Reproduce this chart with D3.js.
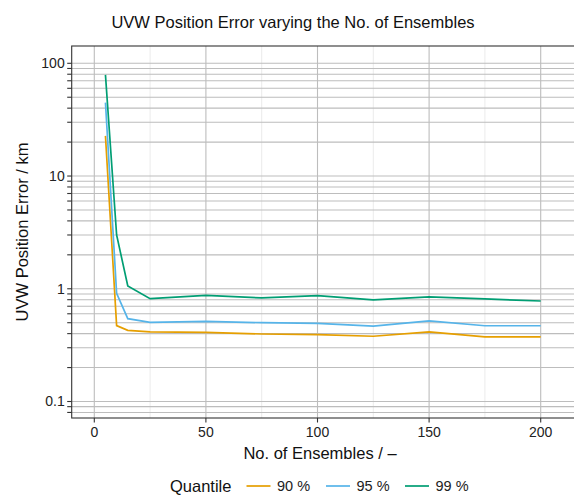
<!DOCTYPE html>
<html><head><meta charset="utf-8">
<script src="https://cdn.jsdelivr.net/npm/d3@7"></script>
<style>html,body{margin:0;padding:0;background:#fff;}svg{display:block;font-family:"Liberation Sans",Arial,sans-serif;}</style>
</head><body><div id="chart"></div>
<script>
const ensembles = [5, 10, 15, 25, 50, 75, 100, 125, 150, 175, 200];
const q90 = [22.7, 0.471, 0.428, 0.414, 0.411, 0.397, 0.392, 0.379, 0.414, 0.375, 0.375];
const q95 = [44.8, 0.912, 0.543, 0.504, 0.514, 0.500, 0.494, 0.467, 0.518, 0.470, 0.470];
const q99 = [78.9, 3.0, 1.06, 0.817, 0.875, 0.830, 0.868, 0.796, 0.846, 0.812, 0.779];
const seriesNames = ["90 %", "95 %", "99 %"];
const seriesColors = ["#E69F00", "#56B4E9", "#009E73"];
const xMajorTicks = [0, 50, 100, 150, 200];
const xMinorTicks = [25, 75, 125, 175];
const yMajorTicks = [0.1, 1, 10, 100];
const yLabels = ["0.1", "1", "10", "100"];

const W = 574, H = 495;
const svg = d3.select("#chart").append("svg").attr("width", W).attr("height", H);

const pL = 71.7, pT = 46, pB = 418, pR = 600;
const x = d3.scaleLinear().domain([0, 200]).range([94.3, 540.7]);
const y = d3.scaleLog().domain([0.1, 100]).range([401.5, 63.3]);

const yGrid = [];
[0.01, 0.1, 1, 10, 100].forEach(d => { for (let k = 1; k <= 9; k++) { const v = +(d * k).toPrecision(3); const py = y(v); if (py > pT && py < pB) yGrid.push(v); } });

svg.append("defs").append("clipPath").attr("id", "pc")
  .append("rect").attr("x", pL).attr("y", pT).attr("width", pR - pL).attr("height", pB - pT);

const g = svg.append("g").attr("clip-path", "url(#pc)");
g.append("rect").attr("x", pL).attr("y", pT).attr("width", pR - pL).attr("height", pB - pT).attr("fill", "#fff");

g.selectAll(".vmin").data(xMinorTicks).join("line")
  .attr("x1", d => x(d)).attr("x2", d => x(d)).attr("y1", pT).attr("y2", pB)
  .attr("stroke", "#ebebeb").attr("stroke-width", 1);
g.selectAll(".vmaj").data(xMajorTicks).join("line")
  .attr("x1", d => x(d)).attr("x2", d => x(d)).attr("y1", pT).attr("y2", pB)
  .attr("stroke", "#bdbdbd").attr("stroke-width", 1.1);
g.selectAll(".hgrid").data(yGrid).join("line")
  .attr("x1", pL).attr("x2", pR).attr("y1", d => y(d)).attr("y2", d => y(d))
  .attr("stroke", "#bdbdbd").attr("stroke-width", 1.1);

const allSeries = [q90, q95, q99];
const line = d3.line().x((d, i) => x(ensembles[i])).y(d => y(d));
allSeries.forEach((s, k) => {
  g.append("path").datum(s).attr("d", line).attr("fill", "none")
    .attr("stroke", seriesColors[k]).attr("stroke-width", 1.7);
});

svg.append("rect").attr("x", pL).attr("y", pT).attr("width", pR - pL).attr("height", pB - pT)
  .attr("fill", "none").attr("stroke", "#333").attr("stroke-width", 1.1);

svg.selectAll(".yt").data(yGrid).join("line")
  .attr("x1", pL - 4.5).attr("x2", pL).attr("y1", d => y(d)).attr("y2", d => y(d))
  .attr("stroke", "#333").attr("stroke-width", 1.1);
svg.selectAll(".yl").data(yMajorTicks).join("text")
  .attr("x", pL - 7).attr("y", d => y(d)).attr("dy", "0.35em").attr("text-anchor", "end")
  .attr("font-size", 14).attr("fill", "#222").text((d, i) => yLabels[i]);

svg.selectAll(".xt").data(xMajorTicks).join("line")
  .attr("x1", d => x(d)).attr("x2", d => x(d)).attr("y1", pB).attr("y2", pB + 4.5)
  .attr("stroke", "#333").attr("stroke-width", 1.1);
svg.selectAll(".xl").data(xMajorTicks).join("text")
  .attr("x", d => x(d)).attr("y", pB + 19).attr("text-anchor", "middle")
  .attr("font-size", 14).attr("fill", "#222").text(d => d);

svg.append("text").attr("x", 293).attr("y", 28).attr("text-anchor", "middle")
  .attr("font-size", 16.5).attr("fill", "#111").text("UVW Position Error varying the No. of Ensembles");
svg.append("text").attr("x", 320).attr("y", 459).attr("text-anchor", "middle")
  .attr("font-size", 16.5).attr("fill", "#111").text("No. of Ensembles / \u2013");
svg.append("text").attr("transform", "translate(28,232) rotate(-90)").attr("text-anchor", "middle")
  .attr("font-size", 16.5).attr("fill", "#111").text("UVW Position Error / km");

const ly = 486;
svg.append("text").attr("x", 170).attr("y", ly).attr("dy", "0.35em").attr("font-size", 16.5).attr("fill", "#111").text("Quantile");
const keyX = [246.5, 326, 405];
seriesNames.forEach((n, k) => {
  svg.append("line").attr("x1", keyX[k]).attr("x2", keyX[k] + 24).attr("y1", ly).attr("y2", ly)
    .attr("stroke", seriesColors[k]).attr("stroke-width", 1.7);
  svg.append("text").attr("x", keyX[k] + 30.5).attr("y", ly).attr("dy", "0.35em")
    .attr("font-size", 14.5).attr("fill", "#222").text(n);
});
</script></body></html>
